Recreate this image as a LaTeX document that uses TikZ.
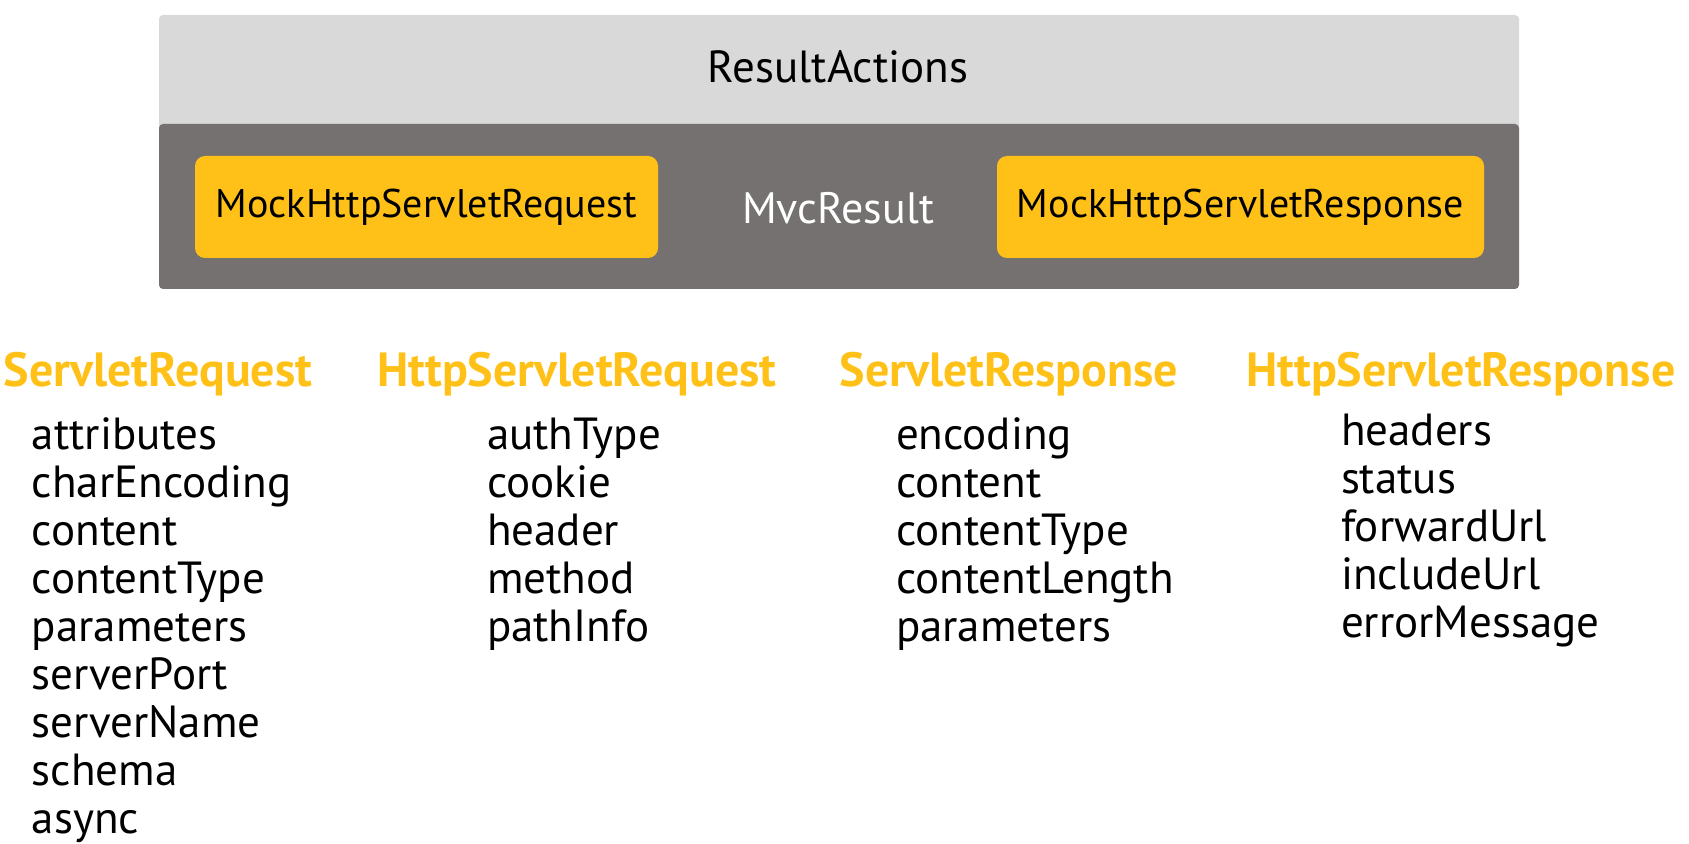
\documentclass[tikz,border=0pt]{standalone}
\usepackage{fontspec}
\setmainfont{PT Sans}
\usetikzlibrary{positioning}
\definecolor{actionsgray}{HTML}{D9D9D9}
\definecolor{resultgray}{HTML}{767171}
\definecolor{mockyellow}{HTML}{FFC118}

\begin{document}
\begin{tikzpicture}[x=0.5pt, y=-0.5pt, every node/.style={inner sep=0pt, outer sep=0pt}]
  \tikzset{
    bar/.style={anchor=north west, minimum width=680pt},
    mockbox/.style={fill=mockyellow, rounded corners=5pt, anchor=north west, minimum height=51pt, font=\fontsize{20}{24}\selectfont},
    heading/.style={anchor=base, text=mockyellow, font=\fontsize{24}{28}\selectfont\bfseries},
    field/.style={anchor=base west, font=\fontsize{22.5}{27}\selectfont}
  }
  \useasboundingbox (0,0) rectangle (1689,844);
  % top bars
  \node[bar, fill=actionsgray, rounded corners=2pt, minimum height=60pt] (actions) at (159,15) {};
  \node[bar, fill=resultgray, rounded corners=2pt, minimum height=82.5pt] (result) at (159,124) {};
  \node[font=\fontsize{22.5}{27}\selectfont] (actionslabel) at (838,67) {ResultActions};
  \node[text=white, font=\fontsize{22}{26}\selectfont] (mvc) at (838,208) {MvcResult};
  \node[mockbox, minimum width=231.5pt] (mockreq) at (195,156) {MockHttpServletRequest};
  \node[mockbox, minimum width=243.5pt] (mockresp) at (997,156) {MockHttpServletResponse};
  % interfaces
  \node[heading] (req) at (158,386) {ServletRequest};
  \node[heading] (httpreq) at (577,386) {HttpServletRequest};
  \node[heading] (resp) at (1009,386) {ServletResponse};
  \node[heading] (httpresp) at (1461,386) {HttpServletResponse};
  \foreach \f [count=\i] in {attributes, charEncoding, content, contentType, parameters, serverPort, serverName, schema, async}
    \node[field] (req-\i) at (32,401+48*\i) {\f};
  \foreach \f [count=\i] in {authType, cookie, header, method, pathInfo}
    \node[field] (httpreq-\i) at (487,401+48*\i) {\f};
  \foreach \f [count=\i] in {encoding, content, contentType, contentLength, parameters}
    \node[field] (resp-\i) at (896,401+48*\i) {\f};
  \foreach \f [count=\i] in {headers, status, forwardUrl, includeUrl, errorMessage}
    \node[field] (httpresp-\i) at (1341,397+48*\i) {\f};
\end{tikzpicture}
\end{document}
